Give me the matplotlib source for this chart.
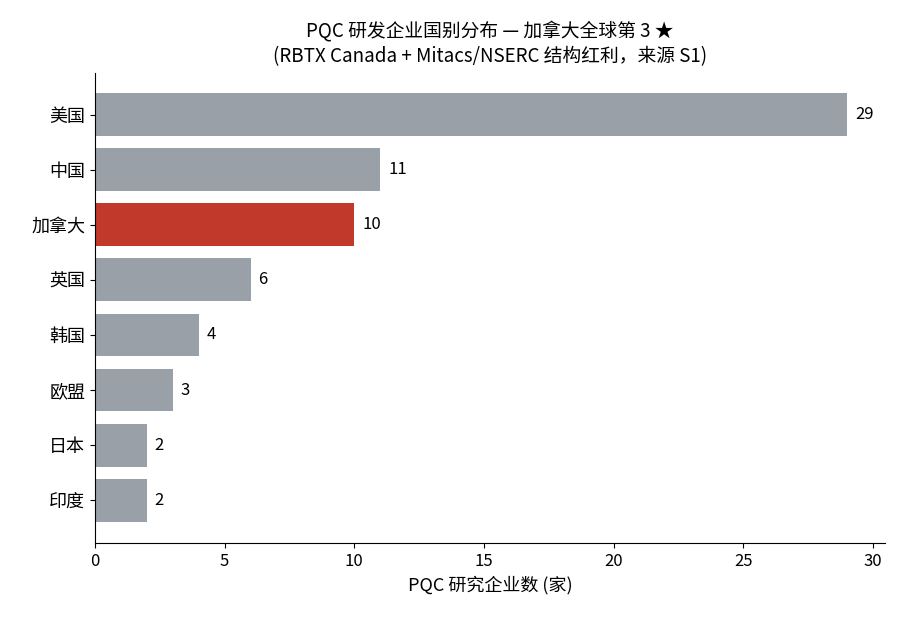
import matplotlib
matplotlib.use("Agg")
import matplotlib.pyplot as plt

plt.rcParams['font.family'] = ['Noto Sans CJK SC', 'DejaVu Sans']

countries = ["美国", "中国", "加拿大", "英国", "韩国", "欧盟", "日本", "印度"]
counts = [29, 11, 10, 6, 4, 3, 2, 2]
highlight = "加拿大"

colors = ["#c0392b" if c == highlight else "#9aa0a8" for c in countries]

fig = plt.figure(figsize=(9, 6.28), dpi=100)
ax = fig.add_axes([95 / 900, 1 - 543 / 628, 790 / 900, 470 / 628])

ypos = list(range(len(countries)))
ax.barh(ypos, counts, height=0.78, color=colors)
for y, v in zip(ypos, counts):
    ax.text(v + 0.3, y, str(v), va="center", ha="left", fontsize=12)

ax.set_yticks(ypos)
ax.set_yticklabels(countries, fontsize=13)
ax.set_ylim(7.78, -0.76)
ax.set_xlim(0, 30.46)
ax.set_xticks([0, 5, 10, 15, 20, 25, 30])
ax.tick_params(axis="x", labelsize=12)
ax.set_xlabel("PQC 研究企业数 (家)", fontsize=13)
ax.spines["top"].set_visible(False)
ax.spines["right"].set_visible(False)
ax.set_title("PQC 研发企业国别分布 — 加拿大全球第 3 ★\n(RBTX Canada + Mitacs/NSERC 结构红利，来源 S1)",
             fontsize=13.5, pad=8)

fig.savefig("out.png", dpi=100)
